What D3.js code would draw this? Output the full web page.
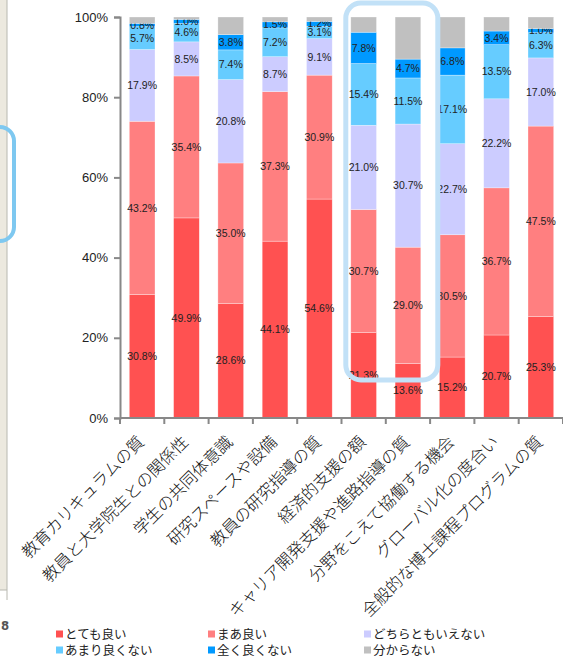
<!DOCTYPE html>
<html>
<head>
<meta charset="utf-8">
<script src="https://cdn.jsdelivr.net/npm/d3@7"></script>
<style>
  body { margin: 0; background: #fff; }
  svg { display: block; }
</style>
</head>
<body>
<script>
const categories = [
  "教育カリキュラムの質",
  "教員と大学院生との関係性",
  "学生の共同体意識",
  "研究スペースや設備",
  "教員の研究指導の質",
  "経済的支援の額",
  "キャリア開発支援や進路指導の質",
  "分野をこえて協働する機会",
  "グローバル化の度合い",
  "全般的な博士課程プログラムの質"
];
const seriesNames = ["とても良い", "まあ良い", "どちらともいえない", "あまり良くない", "全く良くない", "分からない"];
const veryGood = [30.8, 49.9, 28.6, 44.1, 54.6, 21.3, 13.6, 15.2, 20.7, 25.3];
const good = [43.2, 35.4, 35.0, 37.3, 30.9, 30.7, 29.0, 30.5, 36.7, 47.5];
const neutral = [17.9, 8.5, 20.8, 8.7, 9.1, 21.0, 30.7, 22.7, 22.2, 17.0];
const notGood = [5.7, 4.6, 7.4, 7.2, 3.1, 15.4, 11.5, 17.1, 13.5, 6.3];
const bad = [0.8, 1.0, 3.8, 1.5, 1.2, 7.8, 4.7, 6.8, 3.4, 1.0];
const unknown = [1.6, 0.6, 4.4, 1.2, 1.1, 3.8, 10.5, 7.7, 3.5, 2.9];
const yTicks = [0, 0.2, 0.4, 0.6, 0.8, 1.0];
const colors = ["#ff5151", "#ff7f80", "#ccccff", "#66ccff", "#0099ff", "#c0c0c0"];

const width = 563;
const height = 658;
const jpFont = "'Noto Sans CJK JP', sans-serif";

// build rows for the stack
let rows = categories.map((c, i) => {
  let r = { cat: c };
  [veryGood, good, neutral, notGood, bad, unknown].forEach((arr, k) => {
    r[seriesNames[k]] = arr[i];
  });
  return r;
});

let stacked = d3.stack().keys(seriesNames)(rows);

let graph = d3
  .select("body")
  .append("svg")
  .attr("width", width)
  .attr("height", height);

// left-edge leftovers of the page
graph.append("rect")
  .attr("x", 0).attr("y", 0)
  .attr("width", 7).attr("height", 590)
  .attr("fill", "#ece9df");
graph.append("path")
  .attr("d", "M7,0V590M0,590H7V600")
  .attr("fill", "none")
  .attr("stroke", "#b8b8b0")
  .attr("stroke-width", 1);
graph.append("rect")
  .attr("x", -60).attr("y", 127)
  .attr("width", 74).attr("height", 114)
  .attr("rx", 14)
  .attr("fill", "none")
  .attr("stroke", "#7ec8f0")
  .attr("stroke-width", 4);
graph.append("text")
  .attr("x", 1).attr("y", 630)
  .attr("font-family", "'DejaVu Sans Condensed', sans-serif")
  .attr("font-weight", "bold")
  .attr("font-size", 13)
  .attr("fill", "#555")
  .text("8");

let x = d3
  .scaleBand()
  .domain(categories)
  .range([120, 563])
  .paddingInner(0.42)
  .paddingOuter(0.21);

let y = d3
  .scaleLinear()
  .domain([0, 100])
  .range([418, 17]);

// bars
let layers = graph
  .append("g")
  .selectAll("g")
  .data(stacked)
  .enter()
  .append("g")
  .attr("fill", (d, i) => colors[i]);

layers
  .selectAll("rect")
  .data(d => d)
  .enter()
  .append("rect")
  .attr("x", d => x(d.data.cat))
  .attr("width", x.bandwidth())
  .attr("y", d => y(d[1]))
  .attr("height", d => y(d[0]) - y(d[1]))
  .attr("stroke", "#fff")
  .attr("stroke-opacity", 0.5)
  .attr("stroke-width", 0.6);

// value labels (none for 分からない)
layers
  .filter(d => d.key !== "分からない")
  .selectAll("text")
  .data(d => d)
  .enter()
  .append("text")
  .attr("x", d => x(d.data.cat) + x.bandwidth() / 2)
  .attr("y", d => (y(d[0]) + y(d[1])) / 2)
  .attr("dy", "0.35em")
  .attr("text-anchor", "middle")
  .attr("font-family", "'Liberation Sans', Arial, sans-serif")
  .attr("font-size", 10.5)
  .attr("fill", "#222")
  .text(d => (d[1] - d[0]).toFixed(1) + "%");

// y axis
let yAxis = graph
  .append("g")
  .attr("transform", "translate(120,0)")
  .call(
    d3.axisLeft(y)
      .tickValues(yTicks.map(t => t * 100))
      .tickFormat(d => d + "%")
      .tickSize(6)
      .tickPadding(6)
  );
yAxis.select(".domain").attr("stroke", "#888").attr("stroke-width", 2);
yAxis.selectAll(".tick line").attr("stroke", "#888").attr("stroke-width", 2);
yAxis.selectAll(".tick text")
  .attr("font-family", "'Liberation Sans', Arial, sans-serif")
  .attr("font-size", 13)
  .attr("fill", "#222");

// x axis line and band ticks
let step = x.step();
graph.append("line")
  .attr("x1", 120).attr("x2", 563)
  .attr("y1", 418).attr("y2", 418)
  .attr("stroke", "#888").attr("stroke-width", 2);
graph.append("g")
  .selectAll("line")
  .data(d3.range(categories.length + 1))
  .enter()
  .append("line")
  .attr("x1", i => 120 + i * step)
  .attr("x2", i => 120 + i * step)
  .attr("y1", 418).attr("y2", 424)
  .attr("stroke", "#888").attr("stroke-width", 2);

// rotated category labels
graph.append("g")
  .selectAll("text")
  .data(categories)
  .enter()
  .append("text")
  .attr("transform", d => {
    let cx = x(d) + x.bandwidth() / 2 + 3;
    return "translate(" + cx + ",443)rotate(-45)";
  })
  .attr("text-anchor", "end")
  .attr("font-family", jpFont)
  .attr("font-size", 16.5)
  .attr("font-weight", 300)
  .attr("fill", "#111")
  .text(d => d);

// highlight box around 経済的支援 / キャリア開発
let hx0 = x(categories[5]) - 5;
let hx1 = x(categories[6]) + x.bandwidth() + 17;
graph.append("rect")
  .attr("x", hx0)
  .attr("y", 3)
  .attr("width", hx1 - hx0)
  .attr("height", 377)
  .attr("rx", 15)
  .attr("fill", "none")
  .attr("stroke", "#c2e1f7")
  .attr("stroke-width", 5);

// legend
let legend = graph
  .append("g")
  .selectAll("g")
  .data(seriesNames)
  .enter()
  .append("g")
  .attr("transform", (d, i) => {
    let cols = [56, 208, 364];
    return "translate(" + cols[i % 3] + "," + (i < 3 ? 634 : 650) + ")";
  });

legend.append("rect")
  .attr("x", 0).attr("y", -3.5)
  .attr("width", 7).attr("height", 7)
  .attr("fill", (d, i) => colors[i]);

legend.append("text")
  .attr("x", 9)
  .attr("y", 0)
  .attr("dy", "0.36em")
  .attr("font-family", jpFont)
  .attr("font-size", 12.5)
  .attr("fill", "#222")
  .text(d => d);
</script>
</body>
</html>
